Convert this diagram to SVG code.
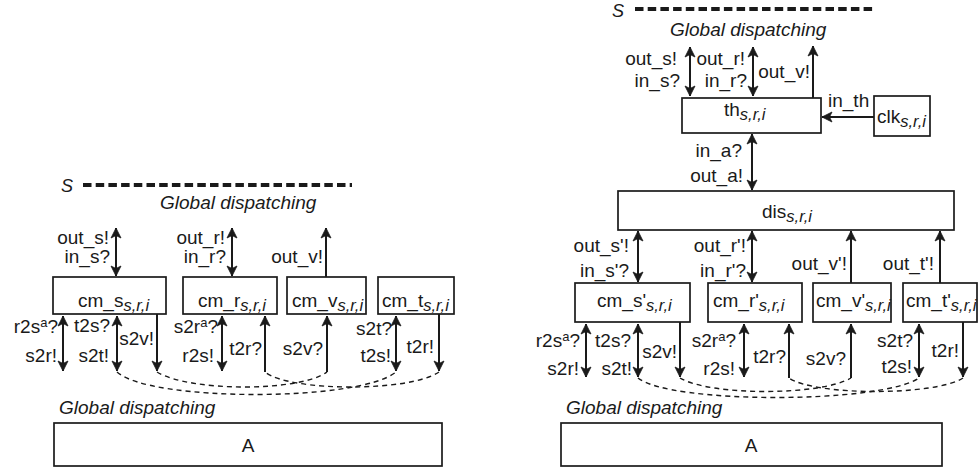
<svg xmlns="http://www.w3.org/2000/svg" width="978" height="470" viewBox="0 0 978 470">
<style>
text{font-family:"Liberation Sans",Arial,sans-serif;font-size:19px;fill:#1a1a1a}
.it{font-style:italic}
.big{font-style:italic;font-size:18px}
.e{text-anchor:end}
.sub{font-style:italic;font-size:16.5px}
.sup{font-size:13px}
.box{fill:#fff;stroke:#1a1a1a;stroke-width:1.7}
.ln{fill:none;stroke:#1a1a1a;stroke-width:2}
.d2{marker-start:url(#ah);marker-end:url(#ah)}
.d1{marker-end:url(#ah)}
.dash{fill:none;stroke:#1a1a1a;stroke-width:1.4;stroke-dasharray:5 4}
.thick{fill:none;stroke:#1a1a1a;stroke-width:4;stroke-dasharray:8.5 4.2}
</style>
<defs>
<marker id="ah" viewBox="0 0 12 12" refX="11" refY="6" markerWidth="12" markerHeight="12" markerUnits="userSpaceOnUse" orient="auto-start-reverse">
<path d="M1,1 L11,6 L1,11 L3.5,6 Z" fill="#1a1a1a" stroke="#1a1a1a" stroke-width="0.8" stroke-linejoin="round"/>
</marker>
</defs>

<!-- LEFT DIAGRAM -->
<g id="left-S">
<text class="big" x="61" y="192">S</text>
<path class="thick" d="M83,185 H352"/>
<text class="it" x="160" y="209">Global dispatching</text>
</g>
<g id="cm_s"><rect class="box" x="53" y="277" width="113" height="37"/><text x="78" y="307">cm_s<tspan class="sub" dy="4">s,r,i</tspan></text></g>
<g id="cm_r"><rect class="box" x="183" y="277" width="94" height="37"/><text x="198" y="307">cm_r<tspan class="sub" dy="4">s,r,i</tspan></text></g>
<g id="cm_v"><rect class="box" x="287" y="277" width="79" height="37"/><text x="292" y="307">cm_v<tspan class="sub" dy="4">s,r,i</tspan></text></g>
<g id="cm_t"><rect class="box" x="378" y="277" width="76" height="37"/><text x="382" y="307">cm_t<tspan class="sub" dy="4">s,r,i</tspan></text></g>
<g id="left-A">
<text class="it" x="59" y="414">Global dispatching</text>
<rect class="box" x="54" y="423" width="388" height="43"/>
<text x="248" y="452" text-anchor="middle">A</text>
</g>
<g id="left-connectors">
<path class="ln d2" d="M116,228 V276"/>
<path class="ln d2" d="M232,228 V276"/>
<path class="ln d1" d="M326,277 V228"/>
<path class="ln d2" d="M63,316 V371"/>
<path class="ln d2" d="M117,316 V371"/>
<path class="ln d1" d="M157,314 V371"/>
<path class="ln d2" d="M222,316 V371"/>
<path class="ln d1" d="M265,372 V316"/>
<path class="ln d1" d="M327,372 V316"/>
<path class="ln d2" d="M396,316 V371"/>
<path class="ln d1" d="M439,314 V371"/>
<path class="dash" d="M117,372 C150,402 360,402 396,372"/>
<path class="dash" d="M157,372 C190,392 300,392 327,372"/>
<path class="dash" d="M439,372 C410,392 290,392 265,372"/>
<text class="e" x="109" y="244">out_s!</text>
<text class="e" x="110" y="263">in_s?</text>
<text class="e" x="225" y="244">out_r!</text>
<text class="e" x="226" y="263">in_r?</text>
<text class="e" x="323" y="263">out_v!</text>
<text class="e" x="58" y="333">r2s<tspan class="sup" dy="-6">a</tspan><tspan dy="6">?</tspan></text>
<text class="e" x="57" y="362">s2r!</text>
<text class="e" x="110" y="332">t2s?</text>
<text class="e" x="109" y="362">s2t!</text>
<text class="e" x="154" y="345">s2v!</text>
<text class="e" x="218" y="333">s2r<tspan class="sup" dy="-6">a</tspan><tspan dy="6">?</tspan></text>
<text class="e" x="214" y="362">r2s!</text>
<text class="e" x="262" y="355">t2r?</text>
<text class="e" x="323" y="355">s2v?</text>
<text class="e" x="392" y="335">s2t?</text>
<text class="e" x="391" y="362">t2s!</text>
<text class="e" x="434" y="353">t2r!</text>
</g>

<!-- RIGHT DIAGRAM -->
<g id="right-S">
<text class="big" x="612" y="17">S</text>
<path class="thick" d="M635,9 H873"/>
<text class="it" x="670" y="36">Global dispatching</text>
</g>
<g id="th"><rect class="box" x="682" y="98" width="139" height="35"/><text x="724" y="116">th<tspan class="sub" dy="4">s,r,i</tspan></text></g>
<g id="clk"><rect class="box" x="874" y="96" width="56" height="40"/><text x="877" y="123">clk<tspan class="sub" dy="4">s,r,i</tspan></text></g>
<g id="dis"><rect class="box" x="618" y="191" width="336" height="39"/><text x="762" y="218">dis<tspan class="sub" dy="4">s,r,i</tspan></text></g>
<g id="cm_s2"><rect class="box" x="575" y="283" width="115" height="39"/><text x="597" y="307">cm_s'<tspan class="sub" dy="4">s,r,i</tspan></text></g>
<g id="cm_r2"><rect class="box" x="708" y="283" width="94" height="39"/><text x="713" y="307">cm_r'<tspan class="sub" dy="4">s,r,i</tspan></text></g>
<g id="cm_v2"><rect class="box" x="813" y="283" width="78" height="39"/><text x="816" y="307">cm_v'<tspan class="sub" dy="4">s,r,i</tspan></text></g>
<g id="cm_t2"><rect class="box" x="903" y="283" width="74" height="39"/><text x="906" y="307">cm_t'<tspan class="sub" dy="4">s,r,i</tspan></text></g>
<g id="right-A">
<text class="it" x="566" y="414">Global dispatching</text>
<rect class="box" x="561" y="423" width="381" height="43"/>
<text x="751" y="452" text-anchor="middle">A</text>
</g>
<g id="right-connectors">
<path class="ln d2" d="M690,47 V96"/>
<path class="ln d2" d="M753,47 V96"/>
<path class="ln d1" d="M813,98 V46"/>
<path class="ln d1" d="M874,117 H822"/>
<path class="ln d2" d="M752,134 V190"/>
<path class="ln d2" d="M638,231 V282"/>
<path class="ln d2" d="M752,231 V282"/>
<path class="ln d1" d="M851,283 V231"/>
<path class="ln d1" d="M940,283 V231"/>
<path class="ln d2" d="M586,324 V377"/>
<path class="ln d2" d="M638,324 V377"/>
<path class="ln d1" d="M680,322 V377"/>
<path class="ln d2" d="M744,324 V377"/>
<path class="ln d1" d="M789,378 V324"/>
<path class="ln d1" d="M851,378 V324"/>
<path class="ln d2" d="M919,324 V377"/>
<path class="ln d1" d="M963,322 V377"/>
<path class="dash" d="M638,378 C670,404 880,404 919,378"/>
<path class="dash" d="M680,378 C710,396 820,396 851,378"/>
<path class="dash" d="M963,378 C935,396 815,396 789,378"/>
<text class="e" x="677" y="65">out_s!</text>
<text class="e" x="680" y="87">in_s?</text>
<text class="e" x="745" y="65">out_r!</text>
<text class="e" x="747" y="87">in_r?</text>
<text class="e" x="810" y="78">out_v!</text>
<text x="828" y="107">in_th</text>
<text class="e" x="742" y="157">in_a?</text>
<text class="e" x="743" y="182">out_a!</text>
<text class="e" x="629" y="252">out_s'!</text>
<text class="e" x="629" y="277">in_s'?</text>
<text class="e" x="746" y="252">out_r'!</text>
<text class="e" x="746" y="277">in_r'?</text>
<text class="e" x="847" y="270">out_v'!</text>
<text class="e" x="934" y="270">out_t'!</text>
<text class="e" x="580" y="347">r2s<tspan class="sup" dy="-6">a</tspan><tspan dy="6">?</tspan></text>
<text class="e" x="579" y="375">s2r!</text>
<text class="e" x="631" y="347">t2s?</text>
<text class="e" x="632" y="375">s2t!</text>
<text class="e" x="677" y="358">s2v!</text>
<text class="e" x="736" y="347">s2r<tspan class="sup" dy="-6">a</tspan><tspan dy="6">?</tspan></text>
<text class="e" x="735" y="375">r2s!</text>
<text class="e" x="786" y="363">t2r?</text>
<text class="e" x="846" y="365">s2v?</text>
<text class="e" x="913" y="347">s2t?</text>
<text class="e" x="912" y="373">t2s!</text>
<text class="e" x="959" y="357">t2r!</text>
</g>
</svg>
